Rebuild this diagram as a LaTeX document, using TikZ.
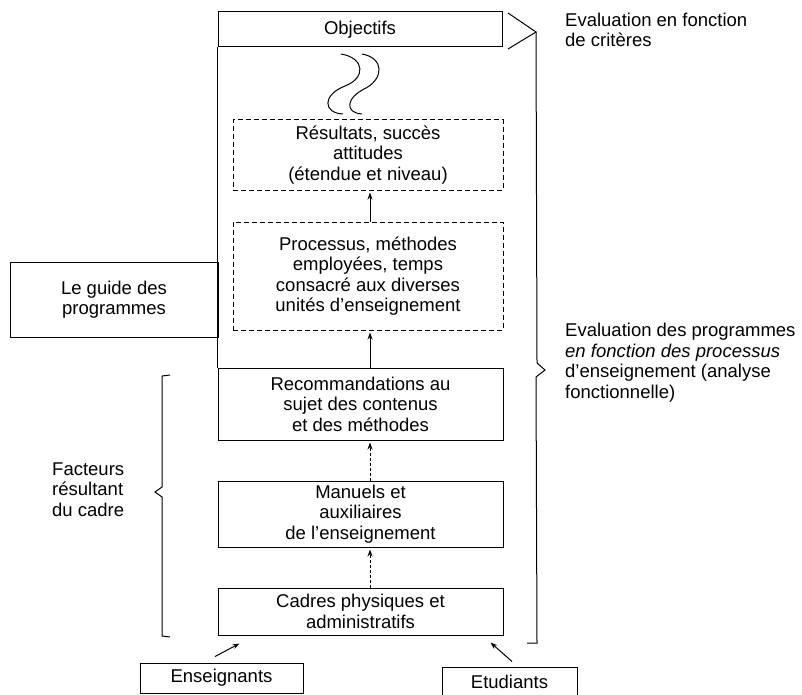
\documentclass[tikz,border=0pt]{standalone}
\usepackage{fontspec}
\setmainfont{Liberation Sans}
\usetikzlibrary{arrows.meta}

\begin{document}
\begin{tikzpicture}[x=1pt,y=-1pt,
  every node/.style={font=\fontsize{18.5}{20.5}\selectfont, align=center, inner sep=0pt},
  box/.style={draw, line width=1pt},
  dbox/.style={box, dash pattern=on 5pt off 3pt},
  arr/.style={line width=1pt, -{Stealth[length=7pt,width=5pt]}},
  darr/.style={arr, dash pattern=on 3pt off 2pt},
  frame/.style={line width=1pt}
]
\useasboundingbox (0,0) rectangle (802,695);

% main chain of boxes
\node[box, minimum width=284pt, minimum height=35pt] (obj) at (360,29.5) {Objectifs};
\node[dbox, minimum width=270pt, minimum height=70pt] (res) at (368,155)
  {Résultats, succès\\attitudes\\(étendue et niveau)};
\node[dbox, minimum width=270pt, minimum height=108pt] (proc) at (368,276)
  {Processus, méthodes\\employées, temps\\consacré aux diverses\\unités d'enseignement};
\node[box, minimum width=285pt, minimum height=72pt] (rec) at (360.5,404)
  {Recommandations au\\sujet des contenus\\et des méthodes};
\node[box, minimum width=285pt, minimum height=66pt] (man) at (360.5,514)
  {Manuels et\\auxiliaires\\de l'enseignement};
\node[box, minimum width=285pt, minimum height=47pt] (cad) at (360.5,611.5)
  {Cadres physiques et\\administratifs};

% side boxes
\node[box, minimum width=208pt, minimum height=75pt] (guide) at (114,299.5)
  {Le guide des\\programmes};
\node[box, minimum width=163pt, minimum height=30pt] (ens) at (221.5,678) {Enseignants};
\node[box, minimum width=135pt, minimum height=30pt] (etu) at (509.5,682) {Etudiants};

% labels
\node[anchor=west, align=left] (evc) at (565,30) {Evaluation en fonction\\de critères};
\node[anchor=west, align=left] (evp) at (565,362.5)
  {Evaluation des programmes\\\textit{en fonction des processus}\\d'enseignement (analyse\\fonctionnelle)};
\node[anchor=west, align=left] (fac) at (52,489.5) {Facteurs\\résultant\\du cadre};

% frame joining the objectives to the recommendations
\draw[frame] (obj.south west) -- (rec.north west);

% right bracket with its pointer to the objectives
\coordinate (bt) at (536,32);
\draw[frame] (508,13) -- (bt) -- (508,49);
\draw[frame] (bt) -- (537,363) -- (545,370) -- (536,377) -- (537,643) -- (527,643);

% left brace
\draw[frame] (170,375) -- (162,376) -- (162,487) -- (155,492) -- (162,497)
  -- (162,636) -- (170,637);

% waves between objectives and results
\draw[frame] (341,54) .. controls (365,58) and (366,78) .. (345,86)
  .. controls (322,95) and (323,113) .. (343,114);
\draw[frame] (362,54) .. controls (384,58) and (384,78) .. (366,88)
  .. controls (345,98) and (345,113) .. (362,114);

% arrows
\draw[arr, shorten >=2pt] ([xshift=2pt]proc.north) -- ([xshift=2pt]res.south);
\draw[arr, shorten >=2pt] ([xshift=9.5pt]rec.north) -- ([xshift=9.5pt]rec.north |- proc.south);
\draw[darr, shorten >=2pt] ([xshift=9.5pt]man.north) -- ([xshift=9.5pt]rec.south);
\draw[darr, shorten >=2pt] ([xshift=9.5pt]cad.north) -- ([xshift=9.5pt]man.south);
\draw[arr] ([xshift=-6.5pt,yshift=6pt]ens.north) -- ([xshift=22pt,yshift=-8pt]cad.south west);
\draw[arr] ([xshift=2.5pt,yshift=5pt]etu.north) -- ([xshift=-13pt,yshift=-7pt]cad.south east);
\end{tikzpicture}
\end{document}
